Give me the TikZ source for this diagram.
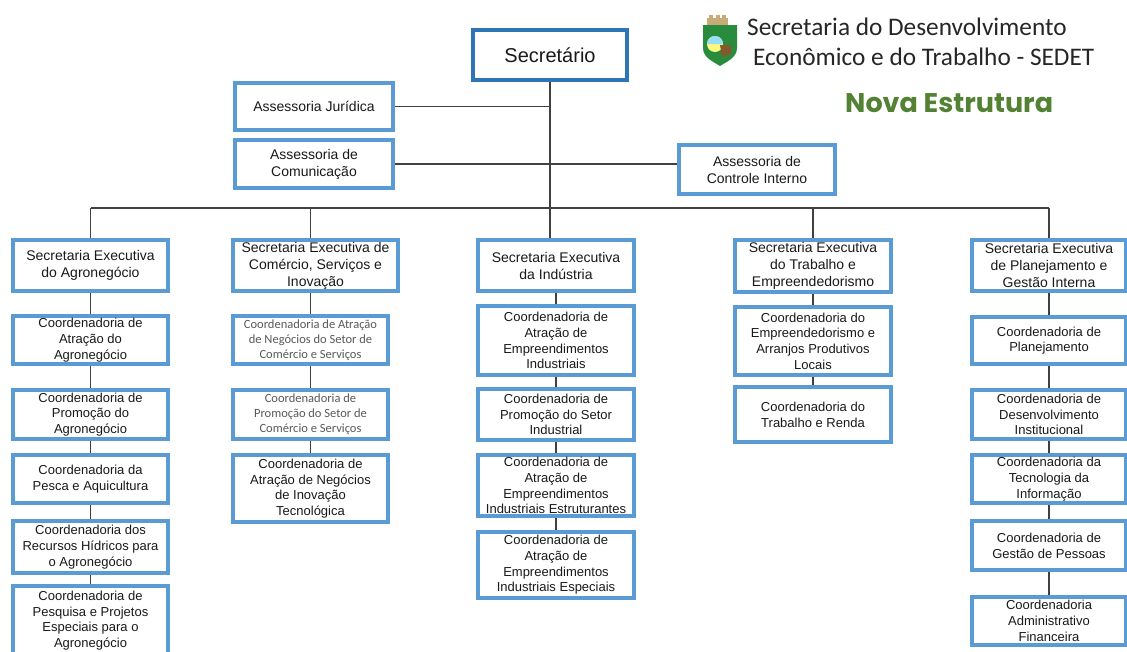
\documentclass[tikz,border=0pt]{standalone}
\usepackage{fontspec}
\setmainfont{Liberation Sans}
\newfontfamily\calibri{Carlito}
\newfontfamily\poppins{Poppins}

\definecolor{azulclaro}{RGB}{91,155,213}
\definecolor{azulescuro}{RGB}{46,117,182}
\definecolor{verdenova}{RGB}{84,130,53}
\definecolor{cinzalinha}{RGB}{64,64,64}
\definecolor{cinzatexto}{RGB}{89,89,89}
\definecolor{brasaoverde}{RGB}{40,140,60}
\definecolor{brasaoouro}{RGB}{200,172,120}

\begin{document}
\begin{tikzpicture}[x=1pt, y=-1pt,
    caixa/.style={draw=azulclaro, line width=3.8pt, fill=white, align=center, inner sep=1pt, text=black!90},
    tam/.style 2 args={minimum width=#1, minimum height=#2},
    fse/.style={font=\fontsize{14}{17}\selectfont},
    fco/.style={font=\fontsize{13}{15.7}\selectfont},
    fcal/.style={font=\calibri\fontsize{12.5}{15}\selectfont, text=cinzatexto},
    linha/.style={draw=cinzalinha, line width=1.6pt}]

    \fill[white] (0,0) rectangle (1127,651);
    \useasboundingbox (0,0) rectangle (1127,651);

    % 标题
    \node[anchor=base west, inner sep=0, font=\calibri\fontsize{25.3}{28}\selectfont, text=black!85] (tit1) at (747,35) {Secretaria do Desenvolvimento};
    \node[anchor=base west, inner sep=0, font=\calibri\fontsize{25.3}{28}\selectfont, text=black!85] (tit2) at (753,65) {Econômico e do Trabalho - SEDET};
    \node[anchor=base west, inner sep=0, font=\poppins\bfseries\fontsize{27}{30}\selectfont, text=verdenova] (nova) at (845,112) {Nova Estrutura};

    % 徽章
    \fill[brasaoouro] (707,25) rectangle (728,18);
    \fill[brasaoouro] (709,18) rectangle (713,15);
    \fill[brasaoouro] (715.5,18) rectangle (719.5,15);
    \fill[brasaoouro] (722,18) rectangle (726,15);
    \fill[brasaoverde] (703,25) -- (737,25) -- (737,48) .. controls (737,58) and (726,62) .. (720,66) .. controls (714,62) and (703,58) .. (703,48) -- cycle;
    \fill[yellow!50!white] (715,44) circle (8);
    \fill[cyan!40!white] (715,44) -- (723,44) arc[start angle=0, end angle=-180, radius=8] -- cycle;
    \fill[brown!70!black] (720,45) -- (731,45) -- (731,54) -- (722,57) -- cycle;

    % 秘书与顾问
    \node[caixa, draw=azulescuro, line width=4pt, tam={154}{50}, font=\fontsize{20}{24}\selectfont] (sec) at (550,55) {Secretário};
    \node[caixa, tam={158.5}{47.5}, fse] (ajur) at (314,106.5) {Assessoria Jurídica};
    \node[caixa, tam={158.5}{48.5}, fse] (acom) at (314,164) {Assessoria de\\Comunicação};
    \node[caixa, tam={156.5}{49.5}, fse] (acont) at (757,169.5) {Assessoria de\\Controle Interno};

    % 第一列
    \node[caixa, tam={155.5}{51.5}, fse] (seagro) at (90.5,265.5) {Secretaria Executiva\\do Agronegócio};
    \node[caixa, tam={155.5}{48.5}, fco] (c11) at (90.5,340) {Coordenadoria de\\Atração do\\Agronegócio};
    \node[caixa, tam={155.5}{49.5}, fco] (c12) at (90.5,414.5) {Coordenadoria de\\Promoção do\\Agronegócio};
    \node[caixa, tam={155.5}{48.5}, fco] (c13) at (90.5,479) {Coordenadoria da\\Pesca e Aquicultura};
    \node[caixa, tam={155.5}{52.5}, fco] (c14) at (90.5,547) {Coordenadoria dos\\Recursos Hídricos para\\o Agronegócio};
    \node[caixa, tam={155.5}{69.5}, fco] (c15) at (90.5,620.5) {Coordenadoria de\\Pesquisa e Projetos\\Especiais para o\\Agronegócio};

    % 第二列
    \node[caixa, tam={165.5}{51.5}, fse] (secom) at (315.5,265.5) {Secretaria Executiva de\\Comércio, Serviços e\\Inovação};
    \node[caixa, tam={155.5}{48.5}, fcal] (c21) at (310.5,340) {Coordenadoria de Atração\\de Negócios do Setor de\\Comércio e Serviços};
    \node[caixa, tam={155.5}{49.5}, fcal] (c22) at (310.5,414.5) {Coordenadoria de\\Promoção do Setor de\\Comércio e Serviços};
    \node[caixa, tam={155.5}{67.5}, fco] (c23) at (310.5,488.5) {Coordenadoria de\\Atração de Negócios\\de Inovação\\Tecnológica};

    % 第三列
    \node[caixa, tam={156.5}{51.5}, fse] (seind) at (556,265.5) {Secretaria Executiva\\da Indústria};
    \node[caixa, tam={156.5}{69.5}, fco] (c31) at (556,340.5) {Coordenadoria de\\Atração de\\Empreendimentos\\Industriais};
    \node[caixa, tam={156.5}{51.5}, fco] (c32) at (556,414.5) {Coordenadoria de\\Promoção do Setor\\Industrial};
    \node[caixa, tam={156.5}{61.5}, fco] (c33) at (556,485.5) {Coordenadoria de\\Atração de\\Empreendimentos\\Industriais Estruturantes};
    \node[caixa, tam={156.5}{66.5}, fco] (c34) at (556,565) {Coordenadoria de\\Atração de\\Empreendimentos\\Industriais Especiais};

    % 第四列
    \node[caixa, tam={156.5}{52.5}, fse] (setrab) at (813,266) {Secretaria Executiva\\do Trabalho e\\Empreendedorismo};
    \node[caixa, tam={156.5}{68.5}, fco] (c41) at (813,341) {Coordenadoria do\\Empreendedorismo e\\Arranjos Produtivos\\Locais};
    \node[caixa, tam={156.5}{55.5}, fco] (c42) at (813,414.5) {Coordenadoria do\\Trabalho e Renda};

    % 第五列
    \node[caixa, tam={154.5}{51.5}, fse] (seplan) at (1049,265.5) {Secretaria Executiva\\de Planejamento e\\Gestão Interna};
    \node[caixa, tam={154.5}{47.5}, fco] (c51) at (1049,340.5) {Coordenadoria de\\Planejamento};
    \node[caixa, tam={154.5}{49.5}, fco] (c52) at (1049,414.5) {Coordenadoria de\\Desenvolvimento\\Institucional};
    \node[caixa, tam={154.5}{48.5}, fco] (c53) at (1049,479) {Coordenadoria da\\Tecnologia da\\Informação};
    \node[caixa, tam={154.5}{49.5}, fco] (c54) at (1049,545.5) {Coordenadoria de\\Gestão de Pessoas};
    \node[caixa, tam={154.5}{48.5}, fco] (c55) at (1049,621) {Coordenadoria\\Administrativo\\Financeira};

    % 连线
    \coordinate (barra) at (550,208);
    \draw[linha] (sec) -- (sec |- seind.north);
    \draw[linha] (ajur) -- (ajur -| sec);
    \draw[linha] (acom.east) -- (acom.east -| acont.west);
    \draw[linha] (seagro |- barra) -- (seplan |- barra);
    \foreach \se in {seagro,setrab,seplan}
        \draw[linha] (\se |- barra) -- (\se);
    \draw[linha] (c21 |- barra) -- (c21 |- secom.north);
    \draw[linha] (c21.north) -- (c21.north |- secom.south);

    \draw[linha] (seagro) -- (c11) -- (c12) -- (c13) -- (c14) -- (c15);
    \draw[linha] (c21) -- (c22) -- (c23);
    \draw[linha] (seind) -- (c31) -- (c32) -- (c33) -- (c34);
    \draw[linha] (setrab) -- (c41) -- (c42);
    \draw[linha] (seplan) -- (c51) -- (c52) -- (c53) -- (c54) -- (c55);
\end{tikzpicture}
\end{document}
